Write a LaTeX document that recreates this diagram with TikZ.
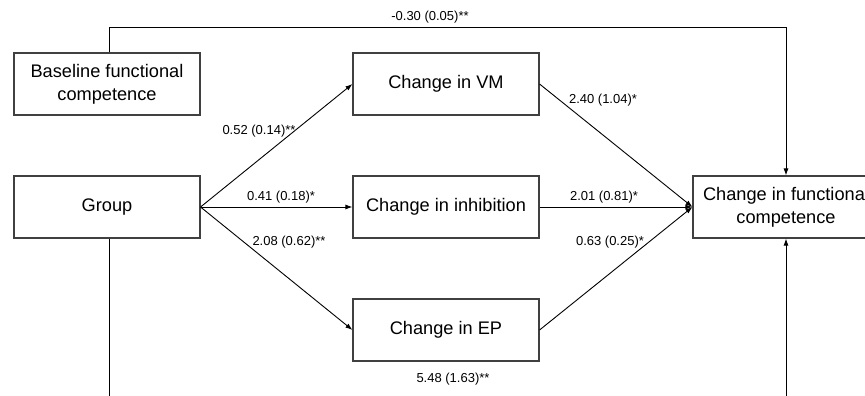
\documentclass[tikz,border=0pt]{standalone}
\usepackage{fontspec}
\setmainfont{Liberation Sans}
\usetikzlibrary{arrows.meta}
\begin{document}
\begin{tikzpicture}[x=1pt,y=-1pt,
  box/.style={draw=black!75, line width=1.1pt, minimum width=186pt, minimum height=62pt, inner sep=0pt, align=center, font=\fontsize{18.2}{23}\selectfont},
  lab/.style={font=\fontsize{13}{15}\selectfont, inner sep=0pt},
  arr/.style={-{Latex[length=7pt,width=5pt]}, line width=0.9pt},
  ln/.style={line width=0.9pt}]
\useasboundingbox (0,0) rectangle (865,396);
\clip (0,0) rectangle (865,396);
\node[box] (base) at (107,84) {Baseline functional\\competence};
\node[box] (group) at (107,207) {Group};
\node[box] (vm) at (446,84) {Change in VM};
\node[box] (inh) at (446,207) {Change in inhibition};
\node[box] (ep) at (446,330) {Change in EP};
\node[box] (out) at (786,207) {Change in functional\\competence};
\draw[arr] ([xshift=2pt]base.north) -- ++(0,-25) -| (out.north);
\draw[arr] ([xshift=2pt]group.south) -- ++(0,250) -| (out.south);
\draw[arr] (group.east) -- (vm.west);
\draw[arr] (group.east) -- (inh.west);
\draw[arr] (group.east) -- (ep.west);
\draw[arr] (vm.east) -- (out.west);
\draw[arr] (inh.east) -- (out.west);
\draw[arr] (ep.east) -- (out.west);
\node[lab] (l0) at (430,17) {-0.30 (0.05)**};
\node[lab] (l1) at (259,131) {0.52 (0.14)**};
\node[lab] (l2) at (281,197) {0.41 (0.18)*};
\node[lab] (l3) at (289,242) {2.08 (0.62)**};
\node[lab] (l4) at (603,100) {2.40 (1.04)*};
\node[lab] (l5) at (604,197) {2.01 (0.81)*};
\node[lab] (l6) at (610,242) {0.63 (0.25)*};
\node[lab] (l7) at (453,379) {5.48 (1.63)**};
\end{tikzpicture}
\end{document}
